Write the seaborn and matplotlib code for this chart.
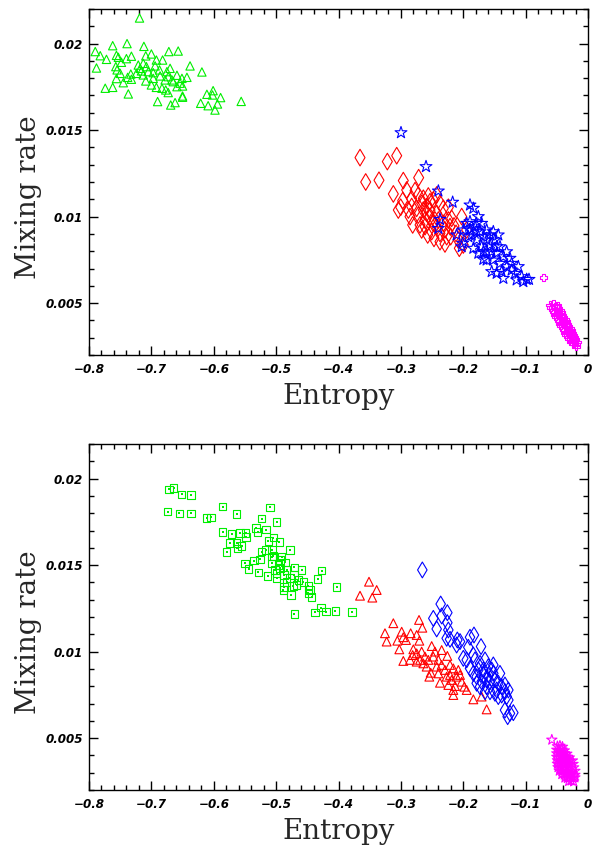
import matplotlib
matplotlib.use("Agg")
import matplotlib.pyplot as plt
import seaborn as sns
from matplotlib.ticker import MultipleLocator, FixedLocator, FuncFormatter

# ---------------- data ----------------
# Top panel
top_green_x = [-0.719,-0.762,-0.739,-0.712,-0.790,-0.782,-0.772,-0.788,-0.756,-0.753,
               -0.740,-0.732,-0.748,-0.757,-0.755,-0.750,-0.756,-0.745,-0.738,-0.732,
               -0.733,-0.724,-0.718,-0.713,-0.709,-0.700,-0.692,-0.682,-0.672,-0.657,
               -0.638,-0.619,-0.670,-0.675,-0.687,-0.697,-0.705,-0.713,-0.709,-0.697,
               -0.700,-0.692,-0.683,-0.677,-0.673,-0.665,-0.659,-0.651,-0.643,-0.650,
               -0.659,-0.650,-0.650,-0.667,-0.678,-0.774,-0.762,-0.737,-0.690,-0.669,
               -0.662,-0.621,-0.609,-0.598,-0.594,-0.589,-0.601,-0.602,-0.611,-0.556,
               -0.708,-0.716,-0.721,-0.694,-0.686,-0.673,-0.654]
top_green_y = [0.02148,0.01988,0.02000,0.01984,0.01954,0.01930,0.01909,0.01859,0.01932,0.01921,
               0.01913,0.01927,0.01892,0.01867,0.01848,0.01828,0.01798,0.01774,0.01805,0.01794,
               0.01824,0.01828,0.01857,0.01886,0.01929,0.01940,0.01905,0.01905,0.01954,0.01957,
               0.01871,0.01836,0.01857,0.01838,0.01848,0.01832,0.01838,0.01819,0.01784,0.01799,
               0.01761,0.01747,0.01742,0.01732,0.01717,0.01780,0.01817,0.01799,0.01805,0.01755,
               0.01751,0.01697,0.01690,0.01790,0.01790,0.01742,0.01747,0.01709,0.01665,0.01645,
               0.01659,0.01655,0.01641,0.01616,0.01651,0.01688,0.01728,0.01703,0.01707,0.01666,
               0.01867,0.01842,0.01876,0.01871,0.01813,0.01809,0.01771]

top_red_x = [-0.3655,-0.3067,-0.3217,-0.3564,-0.3351,-0.2961,-0.2715,-0.2907,-0.3121,-0.2971,
             -0.3003,-0.3041,-0.2827,-0.2773,-0.2720,-0.2640,-0.2560,-0.2480,-0.2426,-0.2827,
             -0.2747,-0.2667,-0.2587,-0.2533,-0.2373,-0.2319,-0.2239,-0.2811,-0.2693,-0.2613,
             -0.2533,-0.2480,-0.2570,-0.2426,-0.2373,-0.2293,-0.2212,-0.2373,-0.2293,-0.2202,
             -0.2116,-0.2079,-0.2063,-0.1999,-0.2025,-0.1945,-0.2186,-0.2426,-0.2720,-0.2854,
             -0.2667,-0.2506,-0.2453,-0.2239,-0.2148,-0.2266,-0.2469,-0.2587,-0.2880,-0.2640,
             -0.2533,-0.2399,-0.2319,-0.2613]
top_red_y = [0.01341,0.01352,0.01318,0.01200,0.01210,0.01208,0.01225,0.01154,0.01131,0.01092,
             0.01054,0.01038,0.01102,0.01150,0.01125,0.01106,0.01119,0.01096,0.01125,0.01058,
             0.01048,0.01077,0.01058,0.01086,0.01077,0.01048,0.01054,0.00952,0.00952,0.00980,
             0.01000,0.00961,0.00894,0.00942,0.00903,0.00923,0.00942,0.00855,0.00842,0.00884,
             0.00903,0.00865,0.00817,0.00836,0.01000,0.00923,0.00990,0.01019,0.01009,0.01000,
             0.00923,0.00913,0.00980,0.00980,0.00946,0.00884,0.00874,0.01019,0.01038,0.01038,
             0.01038,0.00980,0.00961,0.00942]

top_blue_x = [-0.2998,-0.2597,-0.2399,-0.2170,-0.1892,-0.1838,-0.1758,-0.2373,-0.2399,-0.2106,
              -0.2009,-0.1945,-0.1892,-0.1812,-0.1731,-0.1625,-0.1518,-0.1438,-0.1678,-0.1785,
              -0.1838,-0.1758,-0.1678,-0.1625,-0.1571,-0.1491,-0.1411,-0.1464,-0.1518,-0.1357,
              -0.1251,-0.1304,-0.1224,-0.1170,-0.1117,-0.1063,-0.0983,-0.0946,-0.1357,-0.1464,
              -0.1544,-0.1411,-0.1625,-0.1705,-0.1919,-0.1999,-0.2025,-0.1625,-0.1544,-0.1304,
              -0.1224,-0.1384,-0.1144,-0.1037,-0.1892,-0.1785,-0.1705,-0.1571,-0.1785,-0.1865,
              -0.1464,-0.1678]
top_blue_y = [0.01485,0.01289,0.01148,0.01083,0.01067,0.01048,0.01000,0.00984,0.00932,0.00894,
              0.00846,0.00961,0.00923,0.00942,0.00913,0.00923,0.00913,0.00894,0.00884,0.00865,
              0.00817,0.00788,0.00753,0.00797,0.00836,0.00865,0.00826,0.00788,0.00749,0.00768,
              0.00759,0.00711,0.00691,0.00672,0.00711,0.00653,0.00637,0.00637,0.00643,0.00672,
              0.00682,0.00730,0.00749,0.00826,0.00884,0.00923,0.00826,0.00865,0.00797,0.00797,
              0.00730,0.00682,0.00634,0.00624,0.00971,0.00961,0.00961,0.00894,0.00913,0.00894,
              0.00826,0.00797]

top_mag_x = [-0.061,-0.055,-0.049, -0.059,-0.053,-0.047, -0.057,-0.051,-0.045,
             -0.055,-0.049,-0.043, -0.053,-0.047,-0.041, -0.051,-0.045,-0.039,
             -0.049,-0.043,-0.037, -0.047,-0.041,-0.035, -0.045,-0.039,-0.033,
             -0.043,-0.037,-0.031, -0.041,-0.035,-0.029, -0.039,-0.033,-0.027,
             -0.037,-0.031,-0.025, -0.035,-0.029,-0.023, -0.032,-0.027,-0.022,
             -0.030,-0.025,-0.020, -0.027,-0.022,-0.018, -0.024,-0.019, -0.019, -0.0716]
top_mag_y = [0.00488,0.00494,0.00486, 0.00475,0.00480,0.00472, 0.00461,0.00466,0.00459,
             0.00448,0.00452,0.00446, 0.00435,0.00440,0.00432, 0.00422,0.00426,0.00419,
             0.00409,0.00413,0.00406, 0.00396,0.00400,0.00393, 0.00383,0.00387,0.00380,
             0.00370,0.00374,0.00367, 0.00357,0.00361,0.00354, 0.00344,0.00348,0.00341,
             0.00331,0.00335,0.00328, 0.00318,0.00322,0.00315, 0.00305,0.00309,0.00302,
             0.00292,0.00296,0.00289, 0.00279,0.00283,0.00276, 0.00266,0.00262, 0.00250, 0.00649]

# Bottom panel
bot_green_x = [-0.6717,-0.6643,-0.6514,-0.6365,-0.6739,-0.6552,-0.6365,-0.6114,-0.6044,-0.5857,
               -0.5633,-0.5098,-0.5232,-0.4991,-0.5857,-0.5713,-0.5579,-0.5488,-0.5483,-0.5739,
               -0.5633,-0.5552,-0.5622,-0.5793,-0.5323,-0.5296,-0.5162,-0.5125,-0.5045,-0.4949,
               -0.5232,-0.5071,-0.4778,-0.5259,-0.5499,-0.5440,-0.5355,-0.5285,-0.5136,-0.5045,
               -0.4911,-0.5071,-0.4965,-0.4858,-0.5018,-0.4938,-0.4874,-0.4991,-0.4708,-0.4591,
               -0.4270,-0.4713,-0.4831,-0.4874,-0.4724,-0.4671,-0.4564,-0.4484,-0.4457,-0.4430,
               -0.4762,-0.4334,-0.4029,-0.4281,-0.4200,-0.4377,-0.4708,-0.4051,-0.3784,-0.5162,
               -0.5071,-0.4938,-0.4831,-0.4778,-0.4644,-0.4484,-0.4884,-0.4991]
bot_green_y = [0.01938,0.01944,0.01909,0.01905,0.01809,0.01799,0.01799,0.01774,0.01776,0.01838,
               0.01794,0.01834,0.01769,0.01749,0.01693,0.01680,0.01684,0.01684,0.01661,0.01626,
               0.01626,0.01612,0.01597,0.01574,0.01713,0.01690,0.01705,0.01639,0.01659,0.01634,
               0.01578,0.01587,0.01587,0.01533,0.01510,0.01476,0.01526,0.01458,0.01437,0.01553,
               0.01549,0.01510,0.01501,0.01516,0.01472,0.01481,0.01443,0.01453,0.01487,0.01472,
               0.01468,0.01443,0.01404,0.01375,0.01379,0.01385,0.01404,0.01379,0.01356,0.01314,
               0.01327,0.01418,0.01372,0.01254,0.01231,0.01227,0.01217,0.01235,0.01229,0.01587,
               0.01549,0.01530,0.01472,0.01424,0.01414,0.01337,0.01356,0.01424]

bot_red_x = [-0.3511,-0.3388,-0.3655,-0.3458,-0.3121,-0.3255,-0.3228,-0.2987,-0.3057,-0.3025,
             -0.2961,-0.2918,-0.2843,-0.2747,-0.2709,-0.2656,-0.2704,-0.2961,-0.2800,-0.2811,
             -0.2747,-0.2667,-0.2693,-0.2613,-0.2640,-0.2560,-0.2506,-0.2453,-0.2480,-0.2399,
             -0.2346,-0.2255,-0.2522,-0.2544,-0.2426,-0.2346,-0.2373,-0.2293,-0.2212,-0.2159,
             -0.2079,-0.2106,-0.2186,-0.2132,-0.2025,-0.1983,-0.1945,-0.2159,-0.1838,-0.1705,
             -0.1625,-0.2212,-0.2052,-0.2266,-0.2587,-0.2854,-0.2747,-0.2399,-0.2159,-0.2239]
bot_red_y = [0.01404,0.01356,0.01323,0.01312,0.01164,0.01106,0.01058,0.01115,0.01063,0.01013,
             0.01083,0.01067,0.01106,0.01096,0.01183,0.01138,0.01063,0.00946,0.01013,0.00980,
             0.00990,0.01000,0.00952,0.00971,0.00932,0.00952,0.01032,0.01000,0.00971,0.00952,
             0.01009,0.00975,0.00878,0.00855,0.00913,0.00923,0.00820,0.00894,0.00923,0.00903,
             0.00894,0.00855,0.00836,0.00801,0.00826,0.00797,0.00778,0.00749,0.00724,0.00740,
             0.00666,0.00865,0.00865,0.00855,0.00913,0.00952,0.00942,0.00874,0.00778,0.00807]

bot_blue_x = [-0.2656,-0.2362,-0.2480,-0.2346,-0.2255,-0.2426,-0.2255,-0.2239,-0.2266,-0.2212,
              -0.2095,-0.2052,-0.1892,-0.1828,-0.1919,-0.1715,-0.1999,-0.1838,-0.1812,-0.1731,
              -0.1651,-0.1892,-0.1758,-0.1678,-0.1598,-0.1518,-0.1785,-0.1678,-0.1598,-0.1518,
              -0.1571,-0.1491,-0.1438,-0.1625,-0.1464,-0.1384,-0.1331,-0.1277,-0.1384,-0.1438,
              -0.1304,-0.1331,-0.1288,-0.1251,-0.1197,-0.1544,-0.1625,-0.1705,-0.1785,-0.1651,
              -0.1491,-0.1411,-0.1331,-0.1277,-0.2106,-0.1945,-0.1838,-0.1731,-0.1571]
bot_blue_y = [0.01472,0.01275,0.01192,0.01206,0.01225,0.01131,0.01167,0.01125,0.01077,0.01071,
              0.01067,0.01058,0.01083,0.01096,0.01025,0.01029,0.00961,0.00980,0.00952,0.00932,
              0.00952,0.00903,0.00894,0.00894,0.00913,0.00923,0.00855,0.00865,0.00865,0.00874,
              0.00826,0.00836,0.00817,0.00797,0.00778,0.00797,0.00807,0.00778,0.00749,0.00740,
              0.00740,0.00662,0.00624,0.00643,0.00647,0.00894,0.00836,0.00826,0.00817,0.00768,
              0.00759,0.00874,0.00768,0.00720,0.01038,0.00952,0.00874,0.00797,0.00768]

bot_mag_x = [-0.058,
             -0.049,-0.045,-0.041,
             -0.050,-0.046,-0.042,-0.038,
             -0.050,-0.046,-0.042,-0.038,-0.034,
             -0.050,-0.046,-0.042,-0.038,-0.034,-0.030,
             -0.049,-0.045,-0.041,-0.037,-0.033,-0.029,-0.025,
             -0.049,-0.045,-0.041,-0.037,-0.033,-0.029,-0.024,
             -0.048,-0.044,-0.040,-0.036,-0.032,-0.028,-0.023,
             -0.046,-0.042,-0.038,-0.034,-0.030,-0.026,-0.021,
             -0.042,-0.038,-0.034,-0.030,-0.026,-0.021,
             -0.037,-0.033,-0.029,-0.025,-0.021,
             -0.031,-0.027,-0.023]
bot_mag_y = [0.00490,
             0.00452,0.00455,0.00449,
             0.00432,0.00429,0.00434,0.00428,
             0.00411,0.00414,0.00408,0.00412,0.00409,
             0.00391,0.00388,0.00393,0.00389,0.00392,0.00387,
             0.00371,0.00368,0.00373,0.00369,0.00372,0.00367,0.00370,
             0.00351,0.00348,0.00353,0.00349,0.00352,0.00347,0.00350,
             0.00331,0.00328,0.00333,0.00329,0.00332,0.00327,0.00330,
             0.00311,0.00308,0.00313,0.00309,0.00312,0.00307,0.00310,
             0.00291,0.00288,0.00293,0.00289,0.00292,0.00287,
             0.00271,0.00268,0.00273,0.00269,0.00272,
             0.00251,0.00254,0.00249]

x_ticks = [-0.8, -0.7, -0.6, -0.5, -0.4, -0.3, -0.2, -0.1, 0.0]
y_ticks = [0.005, 0.01, 0.015, 0.02]

GREEN = "#00ee00"
RED = "#ff0000"
BLUE = "#0000ff"
MAGENTA = "#ff00ff"

# ---------------- style ----------------
sns.set_theme(style="ticks")
plt.rcParams.update({
    "font.family": ["DejaVu Sans"],
    "font.style": "italic",
    "font.weight": "bold",
    "axes.linewidth": 1.0,
    "axes.edgecolor": "black",
    "xtick.color": "black",
    "ytick.color": "black",
})

fig = plt.figure(figsize=(5.93, 8.48), dpi=100)
fig.patch.set_facecolor("white")
ax1 = fig.add_axes([89/593, 1-355/848, 499/593, 346/848])
ax2 = fig.add_axes([89/593, 1-790/848, 499/593, 346/848])


def pts(ax, xs, ys, marker, color, s, lw=0.8):
    sns.scatterplot(x=xs, y=ys, ax=ax, marker=marker, s=s, facecolor="none",
                    edgecolor=color, linewidth=lw, legend=False)


pts(ax1, top_green_x, top_green_y, "^", GREEN, 36)
pts(ax1, top_red_x, top_red_y, "d", RED, 72)
pts(ax1, top_blue_x, top_blue_y, "*", BLUE, 80)
pts(ax1, top_mag_x, top_mag_y, "P", MAGENTA, 30)

pts(ax2, bot_green_x, bot_green_y, "s", GREEN, 30)
sns.scatterplot(x=bot_green_x, y=bot_green_y, ax=ax2, marker="s", s=1.2,
                color=GREEN, linewidth=0, legend=False)
pts(ax2, bot_red_x, bot_red_y, "^", RED, 40)
pts(ax2, bot_blue_x, bot_blue_y, "d", BLUE, 65)
pts(ax2, bot_mag_x, bot_mag_y, "*", MAGENTA, 60)


def fmt_x(v, pos):
    if abs(v) < 1e-9:
        return "0"
    return f"{v:.1f}".replace("-", "\u2212")


def fmt_y(v, pos):
    return f"{v:g}"


for ax in (ax1, ax2):
    ax.set_xlim(-0.8, 0.0)
    ax.set_ylim(0.002, 0.022)
    ax.xaxis.set_major_locator(FixedLocator(x_ticks))
    ax.xaxis.set_minor_locator(MultipleLocator(0.02))
    ax.yaxis.set_major_locator(FixedLocator(y_ticks))
    ax.yaxis.set_minor_locator(MultipleLocator(0.001))
    ax.xaxis.set_major_formatter(FuncFormatter(fmt_x))
    ax.yaxis.set_major_formatter(FuncFormatter(fmt_y))
    ax.tick_params(which="both", direction="in", top=True, right=True,
                   labelsize=8.6, width=1.0, color="black")
    ax.tick_params(which="major", length=6.5)
    ax.tick_params(which="minor", length=3.5)
    ax.tick_params(axis="x", which="major", pad=5.5)
    ax.tick_params(axis="y", which="major", pad=4.5)
    for sp in ax.spines.values():
        sp.set_visible(True)
        sp.set_linewidth(1.0)
        sp.set_color("black")
    ax.set_xlabel("Entropy", fontfamily="DejaVu Serif", fontsize=20,
                  fontstyle="normal", fontweight="normal")
    ax.set_ylabel("Mixing rate", fontfamily="DejaVu Serif", fontsize=20,
                  fontstyle="normal", fontweight="normal")
    ax.xaxis.set_label_coords(0.5, -0.082)
    ax.yaxis.set_label_coords(-0.094, 0.455)
    ax.set_facecolor("white")

fig.savefig("out.png", dpi=100, facecolor="white")
